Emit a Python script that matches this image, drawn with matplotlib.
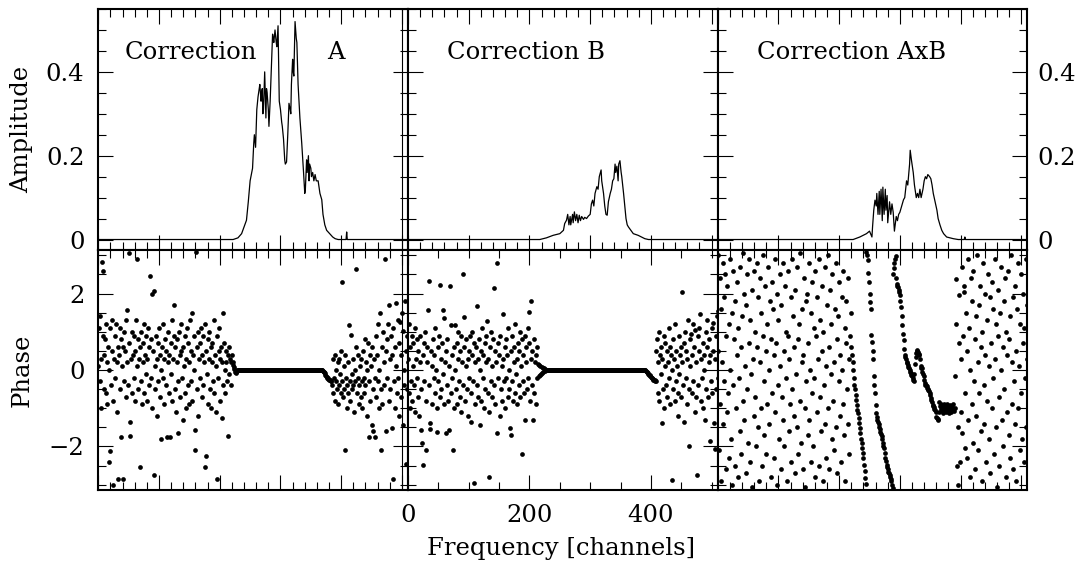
import numpy as np
import matplotlib
matplotlib.use("Agg")
from matplotlib import pyplot as plt
from matplotlib.ticker import MultipleLocator

# amplitude spectra, polyline vertices (channel, amplitude)
amp_a_ch = [0, 222, 230, 236, 240, 244, 247, 250, 254, 256, 257, 259, 261, 263, 265,
            266, 268, 269, 270, 271, 272, 274, 276, 277, 278, 280, 281, 283, 285, 287,
            288, 289, 291, 293, 294, 296, 298, 300, 302, 303, 305, 307, 308, 310, 312,
            314, 316, 317, 318, 320, 321, 322, 324, 326, 327, 329, 332, 335, 338, 340,
            341, 343, 344, 346, 347, 348, 350, 351, 353, 355, 357, 359, 362, 365, 368,
            370, 373, 376, 381, 386, 390, 395, 408, 409, 410, 510]
amp_a = [0, 0, 0.004, 0.014, 0.03, 0.046, 0.09, 0.14, 0.17, 0.23, 0.25, 0.22, 0.31, 0.34, 0.36,
         0.37, 0.33, 0.35, 0.36, 0.30, 0.31, 0.40, 0.29, 0.36, 0.35, 0.31, 0.27, 0.33, 0.41, 0.49,
         0.48, 0.47, 0.50, 0.47, 0.46, 0.51, 0.33, 0.31, 0.28, 0.27, 0.24, 0.19, 0.18, 0.185, 0.25,
         0.325, 0.31, 0.30, 0.37, 0.43, 0.40, 0.39, 0.52, 0.48, 0.47, 0.37, 0.29, 0.23, 0.16, 0.11,
         0.12, 0.19, 0.16, 0.20, 0.14, 0.18, 0.17, 0.15, 0.16, 0.14, 0.155, 0.14, 0.14, 0.11, 0.095,
         0.06, 0.035, 0.022, 0.014, 0.006, 0.002, 0, 0, 0.018, 0, 0]

amp_b_ch = [0, 217, 228, 239, 250, 256, 258, 261, 263, 265, 267, 268, 271, 272, 274,
            276, 278, 280, 282, 284, 286, 289, 291, 294, 297, 300, 302, 304, 306, 308,
            311, 313, 315, 318, 319, 322, 324, 326, 328, 330, 333, 335, 337, 339, 341,
            342, 344, 346, 347, 349, 351, 352, 355, 357, 359, 361, 363, 367, 371, 379,
            390, 396, 510]
amp_b = [0, 0, 0.004, 0.01, 0.014, 0.022, 0.038, 0.046, 0.06, 0.035, 0.055, 0.035, 0.06, 0.04, 0.066,
         0.045, 0.06, 0.04, 0.058, 0.045, 0.055, 0.048, 0.053, 0.05, 0.056, 0.06, 0.085, 0.094, 0.08, 0.11,
         0.126, 0.12, 0.15, 0.166, 0.14, 0.11, 0.08, 0.06, 0.058, 0.09, 0.11, 0.12, 0.14, 0.145, 0.18,
         0.16, 0.175, 0.14, 0.18, 0.188, 0.16, 0.15, 0.11, 0.08, 0.05, 0.035, 0.03, 0.022, 0.014, 0.01,
         0.002, 0, 0]

amp_c_ch = [0, 223, 234, 245, 250, 254, 255, 257, 259, 261, 262, 264, 266, 267, 269,
            271, 272, 274, 276, 277, 279, 280, 283, 285, 287, 289, 291, 294, 296, 298,
            300, 303, 306, 308, 311, 313, 316, 317, 319, 320, 322, 324, 327, 329, 331,
            333, 335, 338, 340, 342, 344, 346, 349, 351, 353, 355, 358, 361, 363, 366,
            369, 372, 377, 388, 396, 406, 407, 408, 510]
amp_c = [0, 0, 0.006, 0.014, 0.02, 0.006, 0.03, 0.07, 0.094, 0.08, 0.11, 0.06, 0.115, 0.06, 0.12,
         0.045, 0.125, 0.06, 0.12, 0.07, 0.105, 0.04, 0.09, 0.06, 0.085, 0.065, 0.02, 0.055, 0.045, 0.06,
         0.065, 0.08, 0.095, 0.10, 0.14, 0.13, 0.18, 0.213, 0.19, 0.18, 0.16, 0.13, 0.10, 0.11, 0.10,
         0.12, 0.10, 0.12, 0.14, 0.15, 0.145, 0.155, 0.15, 0.145, 0.13, 0.11, 0.09, 0.07, 0.05, 0.035,
         0.022, 0.014, 0.006, 0.002, 0, 0, 0.006, 0, 0]

# phase per channel (0..510), radians
phase_a_left = [
    0.1, 1.1, -0.3, 1.4, 0.3, -1.0, 2.83, 0.9, 2.6, -0.5,
    0.4, 0.8, -0.6, 1.2, 0.2, -0.9, 0.6, -2.4, 0.0, -2.13,
    1.1, -0.4, 0.5, 1.3, -0.8, -3.0, 0.3, 0.9, -0.2, 1.2,
    0.2, -1.1, 0.6, -2.85, 0.4, 1.1, -0.5, 0.8, -1.76, 0.1,
    0.6, -2.85, 1.0, -0.3, 0.5, -0.7, 1.3, 1.57, 0.2, -0.4,
    0.7, 3.06, -1.35, -1.72, 0.3, 1.0, -0.6, 0.4, 0.9, -0.2,
    0.5, -0.8, 1.3, 2.9, 0.1, -0.5, 0.8, 0.3, -2.55, 0.6,
    -0.3, 1.0, -0.9, 0.2, 0.7, -0.6, 1.2, 0.4, -0.1, 0.9,
    -0.8, 0.3, 1.1, -0.4, 0.6, 2.45, -0.2, 0.8, 2.0, -1.0,
    0.5, -2.74, 2.07, 0.1, -0.5, 0.9, -1.2, 0.3, 0.7, -0.3,
    1.1, -0.7, 0.4, 0.0, -1.8, 0.6, -0.2, 1.2, -0.9, 0.3,
    0.8, -0.4, 0.5, -1.76, 0.2, 1.0, -0.6, 0.4, -1.76, 0.7,
    -0.1, 1.3, -0.8, 0.3, 0.9, 1.7, -0.5, 0.6, -1.1, 0.2,
    0.8, -0.3, -1.65, 1.0, 0.4, -0.7, 0.5, 1.2, -0.2, -1.3,
    0.6, 0.1, -0.6, 0.9, -1.0, 0.3, 1.1, -0.4, 0.7, -0.9,
    0.2, 1.3, -0.3, 0.5, 1.48, -0.8, 0.4, 0.0, 0.9, -2.1,
    -1.56, 3.08, 0.6, -0.5, 1.0, -1.2, 0.3, 0.7, -0.2, 1.1,
    -0.7, 0.4, 0.9, -0.4, 0.2, 1.2, -2.54, -2.24, 0.5, -0.1,
    0.8, -0.9, 0.3, 1.0, -0.5, 0.6, -1.0, 0.2, 0.7, -0.3,
    1.3, -0.6, 0.4, 0.1, -1.1, -2.85, 0.9, -0.2, 0.5, 1.1,
    -0.8, 0.3, 0.6, -1.26, 0.2, 1.5, -0.4, 0.7, 0.0, -0.6,
    0.5, 0.2, -0.3, -1.74, 0.4, -0.1, 0.6, 0.3, -0.4, 0.2,
    0.4, 0.2]
phase_a_flat = [
    0.13, 0.08, 0.03, -0.05, -0.08, -0.06, -0.03, -0.01,
    0, 0, 0, 0, 0, 0, 0, 0, 0, 0, 0, 0, 0, 0, 0, 0, 0, 0, 0, 0,
    0, 0, 0, 0, 0, 0, 0, 0, 0, 0, 0, 0, 0, 0, 0, 0, 0, 0, 0, 0,
    0, 0, 0, 0, 0, 0, 0, 0, 0, 0, 0, 0, 0, 0, 0, 0, 0, 0, 0, 0,
    0, 0, 0, 0, 0, 0, 0, 0, 0, 0, 0, 0, 0, 0, 0, 0, 0, 0, 0, 0,
    0, 0, 0, 0, 0, 0, 0, 0, 0, 0, 0, 0, 0, 0, 0, 0, 0, 0, 0, 0,
    0, 0, 0, 0, 0, 0, 0, 0, 0, 0, 0, 0, 0, 0, 0, 0, 0, 0, 0, 0,
    0, 0, 0, 0, 0, 0, 0, 0, 0, 0, 0, 0, 0, 0, 0, 0, 0, 0, 0, 0,
    -0.02, -0.04, -0.06, -0.09, -0.12, -0.15, -0.18, -0.2, -0.22, -0.24,
    -0.25, -0.26, -0.27, -0.28, -0.28]
phase_a_right = [
    -0.4, 0.3, -0.6, -0.2, 0.4, -0.8, -0.3, 0.0, -0.5, 0.2,
    -0.9, -0.4, 0.3, -0.1, -0.6, 0.5, 2.29, -0.3, -0.7, 0.1,
    -0.5, -2.1, 0.4, -0.2, -1.0, -0.4, 0.2, -0.6, 1.17, -0.3,
    -0.8, 0.91, -0.1, -0.5, 0.3, -0.4, -1.1, 0.0, -0.3, 0.6,
    2.63, -0.6, -0.2, 0.4, -0.9, -0.4, 0.1, -0.7, 0.3, -0.3,
    -1.0, 0.5, -0.2, -0.6, 0.8, -0.4, 0.2, -1.2, 0.0, 0.7,
    -1.76, -0.3, 0.4, -0.8, 0.1, -1.43, 0.6, -0.5, -1.6, 0.3,
    -0.2, -1.76, 0.9, -0.7, 0.4, -0.3, 1.2, -1.0, 0.0, 1.48,
    -0.5, -2.1, 0.6, -0.9, 1.0, 0.2, -0.4, 2.9, 0.5, -1.6,
    0.8, -0.2, 1.2, 1.7, -0.8, 0.3, -0.5, 0.9, -1.52, 0.4,
    -2.85, 1.1, -0.3, 0.6, -1.0, 1.76, 0.1, -0.6, 1.3, -0.2,
    0.7, -1.2, 1.26, 0.4, -0.7, 1.5, -1.43, 1.03, 0.0, -0.4,
    1.8, 0.5, -2.45, 0.9, -0.5, 0.2]

phase_b_left = [
    0.3, -0.6, 1.2, -1.0, 0.6, -0.3, 0.9, -0.8, 0.1, 0.7,
    -0.4, 1.1, -1.1, 0.3, -0.2, 0.8, -0.7, 0.5, -1.2, 0.2,
    0.9, -0.5, -1.57, -1.91, 0.4, -2.48, 0.7, -0.3, 1.0, -2.1,
    -0.8, 0.2, 0.6, 1.58, 2.32, -0.4, -1.39, -1.55, 0.5, 0.1,
    -0.9, 0.8, -0.2, 0.4, -0.6, 1.1, 0.0, -1.0, -1.63, 0.6,
    -0.3, 0.9, -0.7, 2.23, 0.3, -0.5, 0.7, -0.1, 1.58, -0.9,
    1.37, 0.2, -1.65, 0.5, -0.4, 0.8, -0.8, 0.1, -1.58, 2.19,
    1.17, -0.6, 0.4, -0.2, -2.1, 0.6, -1.0, 1.17, 0.0, -0.5,
    0.7, -0.9, 0.3, 1.0, -0.3, 0.5, -0.7, 0.9, -1.1, 0.2,
    2.5, -0.4, 1.39, 0.6, -0.8, 0.1, 0.8, -0.5, 0.3, -1.2,
    0.5, -0.2, 0.9, -0.6, -1.37, 0.4, 1.0, -0.3, -2.96, 0.7,
    -0.9, 0.2, 0.6, -0.4, 1.68, -0.7, 0.3, 0.8, -1.45, 0.0,
    0.5, -0.8, 1.1, -0.2, 0.4, -1.0, 0.7, -0.5, 0.2, 0.9,
    1.28, -0.6, 0.3, -1.1, -2.8, 0.6, -0.3, 1.0, -0.7, 0.1,
    0.8, 2.15, -0.4, 0.5, -0.9, 0.2, 2.8, -1.65, 0.7, -0.2,
    0.4, -1.2, 0.9, -0.5, 0.1, -0.8, 1.46, 0.3, -0.3, 0.6,
    -1.0, 0.8, -0.2, 0.4, -0.7, 1.1, 0.0, -0.5, -1.52, -1.7,
    0.5, -0.3, 0.9, -0.8, 0.2, 0.6, -0.6, 1.2, -0.1, 0.3,
    -0.9, 0.7, -0.4, 0.5, 1.0, -0.7, 0.1, 0.8, -2.2, -0.3,
    0.4, -0.6, 0.9, -1.3, 0.2, 0.6, -0.5, 1.1, -0.2, 0.7,
    1.52, -0.8, 0.3, 1.8, -0.4, 0.5, -1.3, 0.8, -0.6, 0.2,
    -0.9, 0.4, -0.2, 0.6]
phase_b_flat = [
    0.15, -0.15, 0.12, -0.12, 0.1, -0.1, 0.08, -0.08, 0.06, -0.05, 0.04, -0.03, 0.02, -0.01,
    0, 0, 0, 0, 0, 0, 0, 0, 0, 0, 0, 0, 0, 0, 0, 0, 0, 0, 0, 0, 0, 0, 0, 0, 0, 0, 0, 0, 0, 0,
    0, 0, 0, 0, 0, 0, 0, 0, 0, 0, 0, 0, 0, 0, 0, 0, 0, 0, 0, 0, 0, 0, 0, 0, 0, 0, 0, 0, 0, 0,
    0, 0, 0, 0, 0, 0, 0, 0, 0, 0, 0, 0, 0, 0, 0, 0, 0, 0, 0, 0, 0, 0, 0, 0, 0, 0, 0, 0, 0, 0,
    0, 0, 0, 0, 0, 0, 0, 0, 0, 0, 0, 0, 0, 0, 0, 0, 0, 0, 0, 0, 0, 0, 0, 0, 0, 0, 0, 0, 0, 0,
    0, 0, 0, 0, 0, 0, 0, 0, 0, 0, 0, 0, 0, 0, 0, 0, 0, 0, 0, 0, 0, 0, 0, 0, 0, 0, 0, 0, 0, 0,
    0, 0, 0, 0, 0, 0, 0, 0, 0, 0, 0, 0, 0, 0,
    -0.02, -0.04, -0.06, -0.08, -0.1, -0.12, -0.14, -0.16, -0.18, -0.2,
    -0.22, -0.24, -0.25, -0.26, -0.27, -0.28]
phase_b_right = [
    0.5, -0.3, 0.8, -0.6, 0.2, 1.0, -0.8, 0.4, -0.1, 0.6,
    -1.39, 0.3, -0.5, 0.9, -1.0, 0.1, 0.7, -0.4, 0.5, -0.7,
    0.2, 1.1, -0.2, 0.6, -0.9, 0.4, -2.87, 0.0, 0.8, -0.5,
    0.3, -0.8, 1.2, -0.3, 0.5, 0.1, -0.6, -1.2, 0.9, -0.1,
    0.4, -0.7, 0.6, 2.03, 0.2, -0.4, -1.35, 0.7, 1.0, -0.2,
    0.5, -0.9, 0.3, 1.3, -0.5, -1.98, 0.8, 0.1, 0.93, -0.6,
    0.4, 1.2, -0.3, 0.6, -1.1, 1.04, 0.2, -0.7, -2.74, 0.9,
    -0.4, 0.5, 1.1, 1.46, -0.8, 0.3, -0.2, 0.7, -1.0, 0.4,
    0.0, -1.3, 1.0, -0.5, 0.6, 1.3, -0.7, 0.2, 0.8, -1.87,
    0.4, -0.3, 1.1, -0.6, 0.5, 1.22, -1.39, -2.07, 0.3, 0.9,
    -0.5, 1.4, -0.2, 1.54, -1.0, 0.6, 0.1, 1.2, -1.87, -2.1,
    0.7, -0.4, 1.67, 0.3, -1.2, 0.9, 1.5, 1.91, -0.6, 0.4,
    1.93, -0.3, 0.8]

phase_c_left = [
    3.0, 0.5, -2.1, 2.4, -0.9, 1.6, -2.9, 0.2, 2.8, -1.4,
    1.9, -0.3, 2.5, -2.6, 0.9, -1.1, 2.2, -0.6, 1.2, -2.3,
    2.9, 0.0, -1.8, 1.5, -3.0, 2.6, -0.4, 0.8, -2.5, 1.8,
    -1.0, 2.3, 0.4, -2.8, 1.1, -0.2, 2.7, -1.6, 0.6, -2.2,
    1.4, 3.05, -0.8, 2.0, -1.3, 0.1, -2.7, 1.7, -0.5, 2.5,
    -1.9, 0.7, 2.9, -2.4, 1.3, -0.1, 2.1, -3.05, 0.3, -1.2,
    2.6, -0.7, 1.0, -2.0, 2.8, 0.6, -1.5, 1.9, -2.9, 0.2,
    2.4, -1.0, 1.5, -2.5, 0.9, 3.0, -0.3, -1.7, 2.2, 0.5,
    -2.2, 1.2, -0.9, 2.7, 0.0, -1.4, 1.8, -2.8, 0.8, 2.3,
    -0.6, 1.6, -2.3, 0.4, 2.9, -1.1, 0.7, -3.0, 2.0, -0.4,
    1.3, -1.8, 2.5, 0.1, -2.6, 1.7, -0.7, 2.8, -1.3, 0.5,
    -2.0, 2.2, -0.2, 1.0, -2.9, 0.9, 2.6, -1.6, 0.3, -0.9,
    1.9, -2.4, 2.9, -0.5, 1.4, -1.2, 0.6, -2.7, 2.1, -0.1,
    -1.5, 2.7, 0.8, -2.2, 1.2, -0.8, 3.05, -1.9, 0.2, 1.6,
    -2.6, 0.4, 2.4, -1.0, -3.05, 1.8, -0.3, 2.0, -1.7, 0.7,
    2.8, -1.3, 0.0, -2.4, 1.5, 2.3, -0.6, -2.0, 1.1, -0.2,
    2.6, -2.8, 0.9, -1.1, 1.9, 0.3, -2.5, 2.9, -0.7, 1.3,
    -1.6, 0.5, 2.2, -2.9, 1.0, -0.4, 2.7, -1.4, 0.1, -2.3,
    1.7, 3.0, -1.0, 0.6, -2.6, 2.1, -0.1, 1.2, -1.8, 2.5,
    -0.8, 0.2, -2.1, 1.6, 2.8, -1.5, 0.8, -2.7, 1.4, -0.3,
    2.3, -1.2, 0.4, -2.4, 1.9, 0.0, -0.9, 2.6, -1.7, 1.1,
    -2.9, 0.7, 1.8, -0.5, 2.4, -1.4, 0.3, -2.2, 0.9, 1.5,
    0.6]
phase_c_mid = [
    0.39, 0.2, 0.0, -0.22, -0.38, -0.5, -0.65, -0.78, -0.92, -1.04,
    -1.13, -1.25, -1.38, -1.52, -1.65, -1.8, -1.92, -2.05, -2.17, -2.3,
    -2.48, -2.65, -2.83, -2.98, 3.09, 3.0, 2.88, 2.55, 2.3, 2.0,
    1.78, 1.6, 0.91, 0.74, 0.5, 0.3, -0.17, -0.4, -0.61, -0.91,
    -1.13, -1.22, -1.3, -1.35, -1.42, -1.48, -1.55, -1.61, -1.68, -1.74,
    -1.8, -1.91, -1.98, -2.04, -2.17, -2.3, -2.38, -2.48, -2.54, -2.6,
    -2.66, -2.7, -2.74, -2.8, -2.86, -2.91, -3.0, -3.09, 2.52, 2.68,
    2.8, 2.9, 2.97, 2.4, 2.26, 2.2, 2.17, 2.1, 2.05, 1.96,
    1.8, 1.65, 1.4, 1.17, 0.95, 0.78, 0.55, 0.39, 0.33, 0.3,
    0.22, 0.18, 0.13, 0.08, 0.04, 0.0, -0.05, -0.09, -0.13, -0.17,
    -0.22, -0.26, -0.3, -0.1, 0.15, 0.35, 0.45, 0.5, 0.52, 0.48,
    0.43, 0.39, 0.3, 0.1, 0.05, 0.04, -0.05, -0.1, -0.17, -0.26,
    -0.35, -0.38, -0.4, -0.43, -0.46, -0.49, -0.52, -0.56, -0.6, -0.65,
    -0.72, -0.78, -0.85, -0.91, -0.95, -0.98, -1.01, -1.04, -1.1, -1.22,
    -1.26, -1.28, -1.3, -0.85, -1.1, -0.95, -1.02, -0.88, -1.08, -0.98,
    -1.12, -0.9, -1.0, -1.05, -0.94, -1.1, -0.88, -1.0, -1.06, -0.96,
    -1.13, -1.0, -0.92, -1.05, -1.1, -0.97, -1.04, -0.9, -1.08, -1.0]
phase_c_right = [
    -0.17, 2.39, 1.2, -2.5, -3.0, -1.5, 0.7, 1.96, -2.4, 0.3,
    -1.1, 2.7, -1.65, 0.9, 2.2, 2.05, -2.05, -0.6, 1.5, -2.3,
    0.5, 2.9, -1.3, 1.1, -2.8, 0.0, 2.4, -0.9, 1.8, -1.9,
    2.6, -0.3, 0.8, -2.6, 1.4, -1.2, 3.0, 0.2, -2.1, 1.7,
    -0.6, 2.2, -1.6, 0.6, -2.9, 1.0, 2.8, -0.4, -1.4, 2.0,
    0.4, -2.4, 1.3, -0.8, 2.5, -1.8, 0.1, 1.9, -2.7, 0.7,
    2.3, -1.0, -0.2, 1.6, -2.2, 2.9, 0.3, -1.5, 1.2, -3.05,
    0.9, 2.1, -0.7, -2.5, 1.5, 0.0, 2.7, -1.3, 0.6, -2.0,
    1.8, -0.5, 2.4, -2.8, 1.0, -1.1, 0.4, 2.6, -1.7, 0.8,
    -2.3, 1.4, 3.0, -0.9, 0.2, -2.6, 1.9, -0.3, 2.2, -1.4,
    0.5, -2.9, 1.6, 2.8, -1.0, 0.1, -2.1, 1.2, -0.6, 2.5,
    -1.8, 0.7, 2.0, -2.4, 1.1, -0.2, 2.9, -1.5, 0.3, 1.7]

titles = ["Correction B", "Correction AxB"]

plt.rcParams['font.family'] = ['DejaVu Serif']
plt.rcParams['font.size'] = 17.5

W, H = 1086, 563
fig = plt.figure(figsize=(W / 100, H / 100), dpi=100)

lefts = [98.3, 408.0, 717.7]
pw = 309.7
amps = [(amp_a_ch, amp_a), (amp_b_ch, amp_b), (amp_c_ch, amp_c)]
phases = [phase_a_left + phase_a_flat + phase_a_right,
          phase_b_left + phase_b_flat + phase_b_right,
          phase_c_left + phase_c_mid + phase_c_right]


def style(ax, xmajor, xminor, ymajor, yminor):
    ax.xaxis.set_major_locator(MultipleLocator(xmajor))
    ax.xaxis.set_minor_locator(MultipleLocator(xminor))
    ax.yaxis.set_major_locator(MultipleLocator(ymajor))
    ax.yaxis.set_minor_locator(MultipleLocator(yminor))
    ax.tick_params(which='both', direction='in', top=True, right=True,
                   width=0.8, labelbottom=False, labelleft=False)
    ax.tick_params(which='major', length=11)
    ax.tick_params(which='minor', length=5.5)
    ax.tick_params(axis='y', pad=10)
    ax.tick_params(axis='x', pad=10)
    for s in ax.spines.values():
        s.set_linewidth(1.5)


for i in range(3):
    l = lefts[i] / W
    ax_t = fig.add_axes([l, (H - 250) / H, pw / W, 241 / H])
    ax_b = fig.add_axes([l, (H - 490) / H, pw / W, 240 / H])

    ch, amp = amps[i]
    ax_t.plot(ch, amp, color='k', lw=0.9)
    ax_t.set_xlim(0, 510)
    ax_t.set_ylim(-0.025, 0.55)
    style(ax_t, 100, 20, 0.2, 0.05)
    ax_t.yaxis.set_major_formatter(plt.FuncFormatter(lambda v, p: "0" if abs(v) < 1e-9 else f"{v:.1f}"))

    ph = phases[i]
    ax_b.plot(np.arange(len(ph)), ph, 'o', color='k', ms=3.4, mew=0)
    ax_b.set_xlim(0, 510)
    ax_b.set_ylim(-3.14, 3.14)
    if i == 1:
        # only the middle frequency axis carries numbers
        style(ax_b, 200, 50, 2, 0.5)
        ax_b.tick_params(labelbottom=True)
    else:
        style(ax_b, 100, 20, 2, 0.5)

    if i == 0:
        ax_t.tick_params(labelleft=True)
        ax_b.tick_params(labelleft=True)
        ax_t.axvline(500, color='k', lw=0.8)
        ax_b.axvline(500, color='k', lw=0.8)
        ax_t.text(0.086, 0.7925, "Correction", transform=ax_t.transAxes, va='baseline')
        ax_t.text(0.738, 0.7925, "A", transform=ax_t.transAxes, va='baseline')
    else:
        ax_t.text(0.126, 0.7925, titles[i - 1], transform=ax_t.transAxes, va='baseline')
    if i == 2:
        ax_t.tick_params(labelright=True, pad=7)

fig.text(22 / W, 1 - 129.5 / H, "Amplitude", rotation=90, ha='center', va='center')
fig.text(22 / W, 1 - 370 / H, "Phase", rotation=90, ha='center', va='center')
fig.text(561.5 / W, (H - 555) / H, "Frequency [channels]", ha='center', va='baseline')

fig.savefig("out.png", dpi=100)
